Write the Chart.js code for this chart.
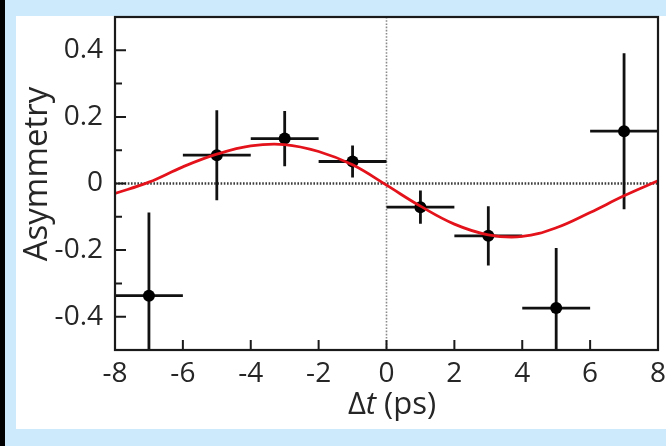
<!DOCTYPE html>
<html>
<head>
<meta charset="utf-8">
<script src="https://cdn.jsdelivr.net/npm/chart.js@4.4.1/dist/chart.umd.min.js"></script>
<style>
  html, body { margin: 0; padding: 0; background: #cdeafc; }
  #wrap { position: relative; width: 666px; height: 446px; }
  canvas { display: block; }
</style>
</head>
<body>
<div id="wrap"><canvas id="chart" width="666" height="446"></canvas></div>
<script>
// Measured asymmetry per Δt bin (bin centre, half-width, value, uncertainty)
const binCenters      = [-7, -5, -3, -1, 1, 3, 5, 7];
const binHalfWidths   = [1, 1, 1, 1, 1, 1, 1, 1];
const asymmetry       = [-0.337, 0.085, 0.135, 0.066, -0.071, -0.157, -0.374, 0.157];
const asymmetryErrors = [0.250, 0.135, 0.083, 0.048, 0.050, 0.089, 0.180, 0.234];

// Fitted oscillation curve sampled along Δt
const fitTimes  = [-8, -7, -6, -5, -4, -3, -2, -1, 0, 1, 2, 3, 4, 5, 6, 7, 8];
const fitValues = [-0.030, 0.004, 0.050, 0.088, 0.113, 0.117, 0.096, 0.056, -0.005,
                   -0.068, -0.122, -0.154, -0.159, -0.133, -0.087, -0.037, 0.008];

// Axis ticks
const xTickValues = [-8, -6, -4, -2, 0, 2, 4, 6, 8];
const xTickLabels = ['-8', '-6', '-4', '-2', '0', '2', '4', '6', '8'];
const yTickValues = [-0.4, -0.2, 0, 0.2, 0.4];
const yTickLabels = ['-0.4', '-0.2', '0', '0.2', '0.4'];
const yMinorTickValues = [-0.3, -0.1, 0.1, 0.3];

const FONT = '"Open Sans", "DejaVu Sans", sans-serif';
const TEXT = '#262626';

const frame = {
  id: 'frame',
  beforeDraw(chart) {
    const ctx = chart.ctx;
    ctx.save();
    ctx.fillStyle = '#cdeafc';
    ctx.fillRect(0, 0, chart.width, chart.height);
    ctx.fillStyle = '#000000';
    ctx.fillRect(0, 0, 5, chart.height);
    ctx.fillStyle = '#ffffff';
    ctx.fillRect(16, 16, chart.width - 16, 413);
    ctx.restore();
  },
  beforeDatasetsDraw(chart) {
    const { ctx, chartArea: a, scales: { x, y } } = chart;
    ctx.save();
    ctx.beginPath();
    ctx.rect(a.left, a.top, a.right - a.left, a.bottom - a.top);
    ctx.clip();
    // zero reference lines
    ctx.setLineDash([1.6, 1.6]);
    ctx.strokeStyle = '#8a8a8a';
    ctx.lineWidth = 1.6;
    const x0 = x.getPixelForValue(0);
    ctx.beginPath(); ctx.moveTo(x0, a.top); ctx.lineTo(x0, a.bottom); ctx.stroke();
    ctx.strokeStyle = '#3c3c3c';
    ctx.lineWidth = 2.4;
    const y0 = y.getPixelForValue(0);
    ctx.beginPath(); ctx.moveTo(a.left, y0); ctx.lineTo(a.right, y0); ctx.stroke();
    ctx.setLineDash([]);
    // error bars
    ctx.strokeStyle = '#111111';
    ctx.lineWidth = 2.8;
    binCenters.forEach((t, i) => {
      const px = x.getPixelForValue(t);
      const py = y.getPixelForValue(asymmetry[i]);
      ctx.beginPath();
      ctx.moveTo(x.getPixelForValue(t - binHalfWidths[i]), py);
      ctx.lineTo(x.getPixelForValue(t + binHalfWidths[i]), py);
      ctx.moveTo(px, y.getPixelForValue(asymmetry[i] + asymmetryErrors[i]));
      ctx.lineTo(px, y.getPixelForValue(asymmetry[i] - asymmetryErrors[i]));
      ctx.stroke();
    });
    ctx.restore();
  },
  afterDraw(chart) {
    const { ctx, chartArea: a, scales: { x, y } } = chart;
    ctx.save();
    // inward ticks
    ctx.strokeStyle = '#1a1a1a';
    ctx.lineWidth = 2;
    ctx.beginPath();
    yTickValues.forEach(v => {
      const py = y.getPixelForValue(v);
      ctx.moveTo(a.left, py); ctx.lineTo(a.left + 11, py);
    });
    yMinorTickValues.forEach(v => {
      const py = y.getPixelForValue(v);
      ctx.moveTo(a.left, py); ctx.lineTo(a.left + 7, py);
    });
    xTickValues.forEach(v => {
      const px = x.getPixelForValue(v);
      ctx.moveTo(px, a.bottom); ctx.lineTo(px, a.bottom - 10);
    });
    ctx.stroke();
    // plot frame
    ctx.lineWidth = 2.2;
    ctx.strokeRect(a.left, a.top, a.right - a.left, a.bottom - a.top);

    // axis titles
    ctx.fillStyle = TEXT;
    ctx.textBaseline = 'middle';
    ctx.textAlign = 'center';
    ctx.save();
    ctx.translate(38, 174);
    ctx.rotate(-Math.PI / 2);
    ctx.font = '33px ' + FONT;
    ctx.fillText('Asymmetry', 0, 0);
    ctx.restore();

    const upright = '31px ' + FONT;
    const italic = 'italic 31px ' + FONT;
    const parts = [['Δ', upright], ['t', italic], [' (ps)', upright]];
    let total = 0;
    parts.forEach(p => { ctx.font = p[1]; total += ctx.measureText(p[0]).width; });
    let cx = 392 - total / 2;
    ctx.textAlign = 'left';
    ctx.textBaseline = 'alphabetic';
    parts.forEach(p => {
      ctx.font = p[1];
      ctx.fillText(p[0], cx, 414);
      cx += ctx.measureText(p[0]).width;
    });
    ctx.restore();
  }
};

new Chart(document.getElementById('chart'), {
  type: 'scatter',
  data: {
    datasets: [
      {
        label: 'fit',
        data: fitTimes.map((t, i) => ({ x: t, y: fitValues[i] })),
        showLine: true,
        borderColor: '#e3121b',
        borderWidth: 2.8,
        pointRadius: 0,
        tension: 0.4,
        order: 0
      },
      {
        label: 'data',
        data: binCenters.map((t, i) => ({ x: t, y: asymmetry[i] })),
        pointRadius: 6,
        pointBackgroundColor: '#000000',
        pointBorderWidth: 0,
        order: 1
      }
    ]
  },
  options: {
    responsive: false,
    animation: false,
    layout: { padding: { left: 0, top: 17, right: 8, bottom: 0 } },
    plugins: { legend: { display: false }, tooltip: { enabled: false } },
    scales: {
      x: {
        type: 'linear', min: -8, max: 8,
        grid: { display: false, drawTicks: false },
        border: { display: false },
        afterBuildTicks(scale) { scale.ticks = xTickValues.map(v => ({ value: v })); },
        afterFit(scale) {
          scale.height = 96;
          scale.paddingLeft = 0; scale.paddingRight = 0;
        },
        ticks: {
          font: { family: FONT, size: 28 }, color: TEXT, padding: 7, maxRotation: 0,
          callback: (v) => xTickLabels[xTickValues.indexOf(v)]
        }
      },
      y: {
        type: 'linear', min: -0.5, max: 0.5,
        grid: { display: false, drawTicks: false },
        border: { display: false },
        afterBuildTicks(scale) { scale.ticks = yTickValues.map(v => ({ value: v })); },
        afterFit(scale) {
          scale.width = 115;
          scale.paddingTop = 0; scale.paddingBottom = 0;
        },
        ticks: {
          font: { family: FONT, size: 28 }, color: TEXT, padding: 12,
          callback: (v) => yTickLabels[yTickValues.findIndex(t => Math.abs(t - v) < 1e-9)]
        }
      }
    }
  },
  plugins: [frame]
});
</script>
</body>
</html>
